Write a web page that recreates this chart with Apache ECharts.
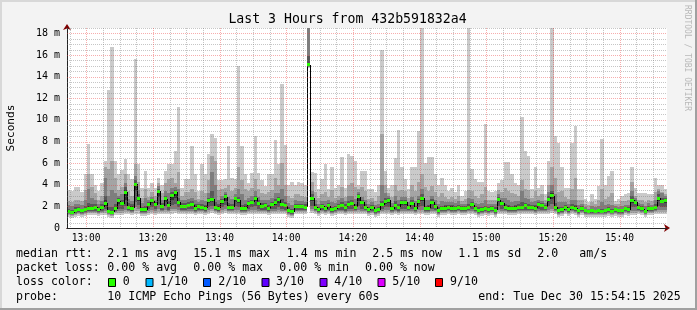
<!DOCTYPE html>
<html><head><meta charset="utf-8">
<script src="https://cdn.jsdelivr.net/npm/echarts@6/dist/echarts.min.js"></script>
<style>html,body{margin:0;padding:0;background:#f3f3f3}#c{width:697px;height:310px}</style>
</head><body><div id="c"></div>
<script>
// time axis: minutes after 12:00; first sample column starts at 12:54:15, one sample per minute
const startMin = 54.25;
const stepMin = 1;
const endMin = 234.25;
const xTickValues = [60,80,100,120,140,160,180,200,220];
const xTickLabels = ['13:00','13:20','13:40','14:00','14:20','14:40','15:00','15:20','15:40'];
const yTickValues = [0,2,4,6,8,10,12,14,16,18];
const yTickLabels = ['0','2 m','4 m','6 m','8 m','10 m','12 m','14 m','16 m','18 m'];
const yMax = 18.5;

// median rtt (ms)
const med = [1.54,1.40,1.63,1.69,1.63,1.69,1.85,1.76,1.94,1.69, 1.94,2.31,1.54,1.45,1.76,2.53,2.25,3.30,1.94,1.85, 4.07,2.77,1.69,1.69,2.16,2.53,2.16,3.39,2.00,2.71, 2.06,2.99,3.30,2.37,2.00,2.00,2.06,2.16,1.85,2.00, 1.91,1.85,2.56,2.68,1.91,1.85,2.46,2.87,1.94,1.91, 2.71,2.56,1.76,1.85,2.31,2.37,2.77,2.31,2.00,2.06, 1.76,2.16,2.37,2.62,2.16,2.06,1.63,1.51,2.00,2.00, 2.00,1.94,15.10,2.77,1.94,1.69,2.00,1.76,2.06,1.69, 1.76,2.00,2.06,1.94,2.16,2.25,1.94,2.87,2.37,1.94, 1.69,1.94,1.63,1.69,2.16,2.46,2.56,1.76,2.06,1.94, 2.37,2.37,1.94,2.31,1.76,2.46,2.77,1.76,1.85,2.40, 2.00,1.63,1.76,1.85,1.94,1.85,1.85,1.94,1.76,1.76, 1.94,2.16,1.76,1.63,1.69,1.76,1.69,1.76,1.63,2.62, 2.31,1.94,1.85,1.76,1.85,1.94,1.94,2.06,1.94,1.94, 1.85,2.16,2.06,1.94,2.68,2.99,1.94,1.63,1.69,1.94, 1.69,1.94,1.85,1.63,1.76,1.63,1.54,1.63,1.54,1.63, 1.54,1.63,1.69,1.54,1.69,1.63,1.63,1.76,1.69,2.56, 2.37,1.94,1.76,1.54,1.85,1.76,1.94,2.77,2.46,2.50];
// sorted ping levels (ms): p1 (min) ... p10 (max)
const p10 = [3.5,3.4,3.8,3.8,3.3,5.0,7.8,5.0,4.0,3.4, 4.2,6.2,12.8,16.7,6.2,5.0,5.4,6.4,5.0,4.5, 15.6,5.9,3.7,5.3,3.7,4.2,3.7,4.6,4.0,5.3, 5.9,5.9,7.1,11.2,3.7,4.5,4.5,7.6,5.0,3.4, 5.9,5.0,6.8,8.7,8.3,4.4,4.4,4.5,7.6,4.6, 4.5,15.0,7.6,5.0,4.2,5.1,8.5,5.1,4.4,3.9, 5.0,5.0,8.1,5.9,13.3,7.7,4.0,4.3,4.0,4.3, 4.2,4.0,25,5.2,5.1,3.6,4.5,5.9,3.6,5.6, 3.7,4.0,6.6,3.7,6.8,6.7,6.2,4.0,5.3,5.3, 3.6,3.6,3.3,4.0,16.5,5.3,3.7,4.0,6.5,9.1, 5.6,4.5,3.6,5.6,5.6,9.0,25,6.0,6.6,6.6, 5.0,4.0,4.6,4.0,3.4,3.7,3.3,4.0,3.0,3.4, 25,5.5,4.5,4.3,4.3,9.6,3.4,3.3,3.4,4.2, 4.4,6.1,6.1,5.0,4.2,4.0,10.3,7.1,6.7,3.6, 5.6,3.7,4.0,3.1,6.2,25,8.5,7.9,5.6,3.7, 3.7,7.9,9.4,3.6,3.6,2.7,2.4,3.1,2.7,3.9, 8.2,4.0,4.8,5.3,2.5,2.7,3.0,3.1,3.2,5.6, 3.7,3.2,3.2,3.2,3.1,3.1,4.6,4.0,4.0,3.6];
const p9 = [2.5,2.4,2.6,2.6,2.5,3.5,5.0,3.8,3.2,2.6, 3.0,5.6,5.5,6.2,4.6,3.5,3.8,5.0,3.4,3.0, 5.9,4.3,2.8,3.6,2.9,3.3,3.0,4.2,3.2,4.2, 4.5,4.6,4.2,5.2,3.0,3.3,3.3,3.6,3.3,2.7, 3.4,3.2,4.4,6.7,6.2,3.5,3.6,3.7,4.0,3.4, 3.7,5.6,4.4,3.6,3.4,3.7,4.5,3.6,3.2,3.1, 3.3,3.5,4.6,4.0,6.0,4.0,3.0,2.8,3.1,3.1, 3.0,2.9,22,4.3,3.3,2.8,3.1,3.3,2.9,3.5, 2.8,3.0,3.8,2.9,4.0,4.2,3.8,3.6,3.8,3.4, 2.7,2.8,2.5,3.0,8.7,4.0,3.2,2.9,4.0,3.4, 3.5,3.4,2.8,4.0,3.4,4.3,5.0,3.8,3.4,3.9, 3.3,2.9,3.2,2.9,2.7,2.9,2.7,3.0,2.5,2.7, 3.5,3.4,3.0,2.8,3.1,3.8,2.6,2.6,2.6,3.5, 3.3,3.7,3.4,3.2,3.1,3.0,4.4,3.6,3.5,2.8, 3.4,3.0,3.1,2.6,4.0,5.6,4.6,3.3,3.4,2.9, 2.7,3.6,4.6,2.6,2.6,2.2,2.1,2.4,2.2,2.6, 3.6,2.7,2.9,3.2,2.2,2.2,2.5,2.5,2.6,4.3, 3.0,2.6,2.6,2.4,2.6,2.5,3.3,3.6,3.3,3.1];
const p8 = [2.1,2.0,2.2,2.2,2.1,2.6,3.6,2.8,2.6,2.2, 2.5,4.6,3.0,3.5,3.2,3.0,3.1,4.2,2.7,2.5, 4.8,3.5,2.3,2.8,2.6,2.9,2.6,3.9,2.6,3.4, 3.2,3.7,3.8,3.6,2.6,2.6,2.7,2.8,2.6,2.4, 2.6,2.5,3.2,5.2,4.0,2.6,3.0,3.3,2.9,2.7, 3.1,3.6,3.1,2.6,2.8,3.0,3.4,2.9,2.6,2.6, 2.6,2.8,3.2,3.2,3.6,3.0,2.3,2.1,2.6,2.5, 2.5,2.4,20,3.4,2.6,2.2,2.5,2.5,2.6,2.4, 2.3,2.6,2.8,2.5,3.0,3.0,2.7,3.3,2.9,2.6, 2.2,2.4,2.1,2.2,4.0,3.2,3.0,2.3,3.0,2.6, 2.9,2.9,2.4,2.9,2.5,3.0,3.6,2.6,2.6,3.0, 2.6,2.2,2.5,2.4,2.4,2.4,2.3,2.5,2.2,2.2, 2.8,2.7,2.3,2.2,2.3,2.6,2.2,2.2,2.2,3.1, 2.8,2.8,2.6,2.4,2.5,2.5,3.4,2.8,2.7,2.4, 2.5,2.6,2.5,2.3,3.3,4.0,3.1,2.4,2.4,2.4, 2.2,2.6,2.6,2.1,2.2,1.9,1.8,2.0,1.9,2.0, 2.4,2.1,2.2,2.1,2.0,1.9,2.0,2.1,2.1,3.4, 2.8,2.3,2.2,2.0,2.3,2.1,2.6,3.4,3.2,3.0];
const p7 = [1.8,1.7,1.9,1.9,1.8,2.0,2.3,2.2,2.2,1.9, 2.2,3.0,1.9,1.9,2.2,2.8,2.6,3.8,2.3,2.2, 4.4,3.1,1.9,2.0,2.4,2.7,2.4,3.6,2.3,3.0, 2.5,3.3,3.5,2.8,2.3,2.3,2.4,2.5,2.2,2.2, 2.2,2.1,2.8,3.4,2.4,2.2,2.7,3.1,2.3,2.2, 2.9,2.9,2.1,2.2,2.5,2.6,3.0,2.6,2.3,2.3, 2.1,2.4,2.7,2.9,2.7,2.4,1.9,1.8,2.2,2.2, 2.2,2.2,15.9,3.1,2.2,1.9,2.2,2.0,2.3,1.9, 2.0,2.2,2.4,2.2,2.5,2.6,2.2,3.1,2.6,2.2, 1.9,2.1,1.8,1.9,2.5,2.8,2.8,2.0,2.5,2.2, 2.6,2.6,2.1,2.6,2.0,2.7,3.1,2.0,2.1,2.7, 2.2,1.9,2.0,2.1,2.1,2.1,2.0,2.1,2.0,2.0, 2.2,2.4,2.0,1.9,1.9,2.0,1.9,2.0,1.9,2.9, 2.5,2.2,2.1,2.0,2.1,2.2,2.4,2.3,2.2,2.1, 2.1,2.4,2.3,2.1,3.0,3.4,2.3,1.9,1.9,2.1, 1.9,2.2,2.1,1.8,2.0,1.8,1.7,1.8,1.7,1.8, 1.8,1.8,1.9,1.8,1.8,1.8,1.8,1.9,1.9,3.0, 2.6,2.1,2.0,1.7,2.0,1.9,2.2,3.1,2.8,2.8];
const p6 = [1.6,1.5,1.7,1.8,1.7,1.8,2.0,1.9,2.0,1.8, 2.0,2.6,1.6,1.6,1.9,2.6,2.4,3.5,2.0,2.0, 4.2,2.9,1.8,1.8,2.3,2.6,2.3,3.5,2.1,2.8, 2.2,3.1,3.4,2.5,2.1,2.1,2.2,2.3,2.0,2.1, 2.0,2.0,2.7,2.8,2.0,2.0,2.6,3.0,2.1,2.0, 2.8,2.7,1.9,2.0,2.4,2.5,2.9,2.4,2.1,2.2, 1.9,2.3,2.5,2.8,2.3,2.2,1.7,1.6,2.1,2.1, 2.1,2.0,15.3,2.9,2.0,1.8,2.1,1.9,2.2,1.8, 1.9,2.1,2.2,2.0,2.3,2.4,2.0,3.0,2.5,2.0, 1.8,2.0,1.7,1.8,2.3,2.6,2.7,1.9,2.2,2.0, 2.5,2.5,2.0,2.4,1.9,2.6,2.9,1.9,2.0,2.5, 2.1,1.7,1.9,2.0,2.0,2.0,1.9,2.0,1.9,1.9, 2.0,2.3,1.9,1.7,1.8,1.9,1.8,1.9,1.7,2.8, 2.4,2.0,2.0,1.9,2.0,2.0,2.0,2.2,2.0,2.0, 2.0,2.3,2.2,2.0,2.8,3.2,2.0,1.7,1.8,2.0, 1.8,2.0,2.0,1.7,1.9,1.7,1.6,1.7,1.6,1.7, 1.6,1.7,1.8,1.6,1.8,1.7,1.7,1.8,1.8,2.7, 2.5,2.0,1.9,1.6,1.9,1.8,2.0,2.9,2.6,2.6];
const p5 = [1.5,1.3,1.5,1.6,1.5,1.6,1.7,1.7,1.8,1.6, 1.8,2.0,1.5,1.4,1.7,2.2,2.1,2.6,1.8,1.7, 3.4,2.5,1.6,1.6,2.0,2.3,2.0,2.9,1.9,2.4, 1.9,2.6,2.8,2.2,1.9,1.9,1.9,2.0,1.7,1.9, 1.8,1.7,2.3,2.4,1.8,1.7,2.2,2.5,1.8,1.8, 2.4,2.3,1.7,1.7,2.1,2.2,2.5,2.1,1.9,1.9, 1.7,2.0,2.1,2.3,2.0,1.9,1.5,1.4,1.9,1.9, 1.9,1.8,15.0,2.5,1.8,1.6,1.9,1.7,1.9,1.6, 1.7,1.9,1.9,1.8,2.0,2.1,1.8,2.5,2.2,1.8, 1.6,1.8,1.5,1.6,2.0,2.2,2.3,1.7,1.9,1.8, 2.1,2.1,1.8,2.1,1.7,2.2,2.5,1.7,1.7,2.2, 1.9,1.5,1.7,1.8,1.8,1.8,1.8,1.8,1.7,1.7, 1.8,2.0,1.7,1.5,1.6,1.7,1.6,1.7,1.5,2.4, 2.1,1.8,1.8,1.7,1.8,1.8,1.8,1.9,1.8,1.8, 1.8,2.0,1.9,1.8,2.4,2.7,1.8,1.5,1.6,1.8, 1.6,1.8,1.7,1.5,1.7,1.5,1.5,1.5,1.5,1.5, 1.5,1.5,1.6,1.5,1.6,1.5,1.5,1.7,1.6,2.3, 2.2,1.8,1.7,1.5,1.7,1.7,1.8,2.5,2.3,2.3];
const p4 = [1.4,1.3,1.4,1.5,1.4,1.5,1.6,1.6,1.6,1.5, 1.6,1.8,1.4,1.3,1.6,1.8,1.8,2.0,1.7,1.6, 2.4,2.1,1.5,1.5,1.8,1.9,1.8,2.2,1.7,2.0, 1.7,2.1,2.2,1.9,1.7,1.7,1.8,1.8,1.6,1.7, 1.7,1.6,1.9,2.0,1.7,1.6,1.9,2.1,1.7,1.7, 2.0,1.9,1.6,1.6,1.8,1.9,2.0,1.8,1.7,1.7, 1.6,1.8,1.8,1.9,1.8,1.7,1.4,1.3,1.7,1.7, 1.7,1.7,15.0,2.0,1.7,1.5,1.7,1.6,1.7,1.5, 1.6,1.7,1.7,1.6,1.8,1.8,1.7,2.0,1.8,1.7, 1.5,1.6,1.4,1.5,1.8,1.9,1.9,1.6,1.7,1.6, 1.8,1.8,1.7,1.8,1.6,1.9,2.0,1.6,1.6,1.8, 1.7,1.4,1.6,1.6,1.7,1.6,1.6,1.7,1.6,1.6, 1.7,1.8,1.6,1.4,1.5,1.6,1.5,1.6,1.4,2.0, 1.8,1.7,1.6,1.6,1.6,1.7,1.7,1.7,1.7,1.7, 1.6,1.8,1.7,1.7,2.0,2.2,1.7,1.4,1.5,1.7, 1.5,1.7,1.6,1.4,1.6,1.4,1.4,1.4,1.4,1.4, 1.4,1.4,1.5,1.4,1.5,1.4,1.4,1.6,1.5,1.9, 1.9,1.7,1.6,1.4,1.6,1.6,1.7,2.0,1.9,1.9];
const p3 = [1.3,1.2,1.3,1.4,1.3,1.4,1.5,1.5,1.5,1.4, 1.5,1.6,1.3,1.2,1.5,1.6,1.6,1.7,1.6,1.5, 1.9,1.8,1.4,1.4,1.6,1.7,1.6,1.8,1.6,1.7, 1.6,1.8,1.8,1.7,1.6,1.6,1.6,1.6,1.5,1.6, 1.6,1.5,1.7,1.8,1.6,1.5,1.7,1.8,1.6,1.6, 1.7,1.7,1.5,1.5,1.6,1.7,1.7,1.6,1.6,1.6, 1.5,1.6,1.6,1.7,1.6,1.6,1.3,1.2,1.6,1.6, 1.6,1.6,14.9,1.8,1.6,1.4,1.6,1.5,1.6,1.4, 1.5,1.6,1.6,1.5,1.6,1.6,1.6,1.7,1.6,1.6, 1.4,1.5,1.3,1.4,1.6,1.7,1.7,1.5,1.6,1.5, 1.6,1.6,1.6,1.6,1.5,1.7,1.7,1.5,1.5,1.6, 1.6,1.3,1.5,1.5,1.6,1.5,1.5,1.6,1.5,1.5, 1.6,1.6,1.5,1.3,1.4,1.5,1.4,1.5,1.3,1.7, 1.6,1.6,1.5,1.5,1.5,1.6,1.6,1.6,1.6,1.6, 1.5,1.6,1.6,1.6,1.7,1.8,1.6,1.3,1.4,1.6, 1.4,1.6,1.5,1.3,1.5,1.3,1.3,1.3,1.3,1.3, 1.3,1.3,1.4,1.3,1.4,1.3,1.3,1.5,1.4,1.6, 1.6,1.6,1.5,1.3,1.5,1.5,1.6,1.7,1.7,1.7];
const p2 = [1.2,1.1,1.2,1.3,1.2,1.3,1.4,1.4,1.4,1.3, 1.4,1.4,1.2,1.1,1.4,1.4,1.4,1.5,1.5,1.4, 1.6,1.6,1.3,1.3,1.4,1.5,1.4,1.5,1.5,1.5, 1.5,1.6,1.6,1.5,1.5,1.5,1.5,1.5,1.4,1.5, 1.5,1.4,1.5,1.6,1.5,1.4,1.5,1.6,1.5,1.5, 1.5,1.5,1.4,1.4,1.5,1.5,1.5,1.5,1.5,1.5, 1.4,1.5,1.5,1.5,1.5,1.5,1.2,1.1,1.5,1.5, 1.5,1.5,14.85,1.6,1.5,1.3,1.5,1.4,1.5,1.3, 1.4,1.5,1.5,1.4,1.5,1.5,1.5,1.5,1.5,1.5, 1.3,1.4,1.2,1.3,1.5,1.5,1.5,1.4,1.5,1.4, 1.5,1.5,1.5,1.5,1.4,1.5,1.5,1.4,1.4,1.5, 1.5,1.2,1.4,1.4,1.5,1.4,1.4,1.5,1.4,1.4, 1.5,1.5,1.4,1.2,1.3,1.4,1.3,1.4,1.2,1.5, 1.5,1.5,1.4,1.4,1.4,1.5,1.5,1.5,1.5,1.5, 1.4,1.5,1.5,1.5,1.5,1.6,1.5,1.2,1.3,1.5, 1.3,1.5,1.4,1.2,1.4,1.2,1.2,1.2,1.2,1.2, 1.2,1.2,1.3,1.2,1.3,1.2,1.2,1.4,1.3,1.4, 1.4,1.5,1.4,1.2,1.4,1.4,1.5,1.5,1.5,1.5];
const p1 = [1.0,0.9,1.0,1.1,1.0,1.1,1.2,1.2,1.2,1.1, 1.2,1.2,1.0,0.9,1.2,1.2,1.2,1.3,1.3,1.2, 1.3,1.3,1.1,1.1,1.2,1.3,1.2,1.3,1.3,1.3, 1.3,1.3,1.4,1.3,1.3,1.3,1.3,1.3,1.2,1.3, 1.3,1.2,1.3,1.4,1.3,1.2,1.3,1.4,1.3,1.3, 1.3,1.3,1.2,1.2,1.3,1.3,1.3,1.3,1.3,1.3, 1.2,1.3,1.3,1.3,1.3,1.3,1.0,0.9,1.3,1.3, 1.3,1.3,14.8,1.4,1.3,1.1,1.3,1.2,1.3,1.1, 1.2,1.3,1.3,1.2,1.3,1.3,1.3,1.3,1.3,1.3, 1.1,1.2,1.0,1.1,1.3,1.3,1.3,1.2,1.3,1.2, 1.3,1.3,1.3,1.3,1.2,1.3,1.3,1.2,1.2,1.3, 1.3,1.0,1.2,1.2,1.3,1.2,1.2,1.3,1.2,1.2, 1.3,1.3,1.2,1.0,1.1,1.2,1.1,1.2,1.0,1.3, 1.3,1.3,1.2,1.2,1.2,1.3,1.3,1.3,1.3,1.3, 1.2,1.3,1.3,1.3,1.3,1.4,1.3,1.0,1.1,1.3, 1.1,1.3,1.2,1.0,1.2,1.0,1.0,1.0,1.0,1.0, 1.0,1.0,1.1,1.0,1.1,1.0,1.0,1.2,1.1,1.2, 1.2,1.3,1.2,1.0,1.2,1.2,1.3,1.3,1.3,1.3];

const smokeColors = ['#cacaca','#a4a4a4','#7e7e7e','#585858','#323232'];
const lossColors = ['#26ff00','#00b8ff','#0059ff','#5e00ff','#7e00ff','#dd00ff','#ff0000'];
const lossLabels = ['0','1/10','2/10','3/10','4/10','5/10','9/10'];

const MONO = 'DejaVu Sans Mono';
const chart = echarts.init(document.getElementById('c'), null, {renderer:'canvas'});

const colData = med.map((v,i)=>[startMin + i*stepMin, v]);

function colX(api, i){
  const a = Math.round(api.coord([startMin + i*stepMin, 0])[0]);
  const b = Math.round(api.coord([startMin + (i+1)*stepMin, 0])[0]);
  return [a,b];
}
function clipR(r, cs){
  return echarts.graphic.clipRectByRect(r, {x:cs.x, y:cs.y, width:cs.width, height:cs.height});
}

function renderSmoke(params, api){
  const i = params.dataIndex;
  const cs = params.coordSys;
  const [xa, xb] = colX(api, i);
  const t = startMin + i*stepMin;
  const v = [p1[i],p2[i],p3[i],p4[i],p5[i],p6[i],p7[i],p8[i],p9[i],p10[i]].slice().sort((a,b)=>a-b);
  const ch = [];
  for (let k=0;k<5;k++){
    const yl = Math.round(api.coord([t, v[k]])[1]);
    const yh = Math.round(api.coord([t, v[9-k]])[1]);
    const r = clipR({x:xa, y:yh, width:xb-xa, height:Math.max(1, yl-yh)}, cs);
    if (r) ch.push({type:'rect', shape:r, style:{fill:smokeColors[k]}});
  }
  return {type:'group', children: ch};
}

function renderMedian(params, api){
  const i = params.dataIndex;
  const cs = params.coordSys;
  const [xa, xb] = colX(api, i);
  const t = startMin + i*stepMin;
  const ym = api.coord([t, med[i]])[1];
  const ch = [];
  if (i > 0){
    const yp = api.coord([t, med[i-1]])[1];
    ch.push({type:'line', shape:{x1:xa+0.5, y1:Math.round(yp), x2:xa+0.5, y2:Math.round(ym)}, style:{stroke:'#000', lineWidth:1}});
  }
  const r = clipR({x:xa, y:Math.round(ym-1.5), width:xb-xa, height:3}, cs);
  if (r) ch.push({type:'rect', shape:r, style:{fill:lossColors[0]}});
  return {type:'group', children: ch};
}

function renderGrid(params, api){
  const cs = params.coordSys;
  const ch = [];
  const x0 = cs.x, x1 = cs.x + cs.width, y0 = cs.y, y1 = cs.y + cs.height;
  for (let k=1; k*0.5 <= yMax + 1e-9; k++){
    const val = k*0.5;
    const y = Math.round(api.coord([startMin, val])[1]) + 0.5;
    const major = (val % 2 === 0);
    ch.push({type:'line', shape:{x1:x0, y1:y, x2:x1, y2:y},
      style:{stroke: major ? 'rgba(235,60,60,0.42)' : 'rgba(120,120,120,0.42)', lineWidth:1, lineDash:[1,1]}});
  }
  for (let m=55; m<endMin; m+=5){
    const x = Math.round(api.coord([m, 0])[0]) + 0.5;
    const major = (m % 20 === 0);
    ch.push({type:'line', shape:{x1:x, y1:y0, x2:x, y2:y1},
      style:{stroke: major ? 'rgba(235,60,60,0.42)' : 'rgba(120,120,120,0.42)', lineWidth:1, lineDash:[1,1]}});
  }
  return {type:'group', children: ch};
}

function fmtX(v){
  const idx = xTickValues.indexOf(Math.round(v));
  return idx >= 0 ? xTickLabels[idx] : '';
}
function fmtY(v){
  const idx = yTickValues.indexOf(v);
  return idx >= 0 ? yTickLabels[idx] : '';
}

const txt = (x, y, s, extra) => Object.assign({type:'text', x:x, y:y, silent:true,
  style:{text:s, fill:'#000', font:'11.6px "'+MONO+'"', textAlign:'left', textVerticalAlign:'middle', verticalAlign:'middle'}}, extra||{});

const boxX = [108.5,146,203.5,262,320,378,435.5];
const boxTextX = [122.7,160,218.3,276,334.3,392.3,450];
const graphics = [
  {type:'rect', shape:{x:0,y:0,width:697,height:2}, style:{fill:'#d8d8d8'}, silent:true},
  {type:'rect', shape:{x:0,y:0,width:2,height:310}, style:{fill:'#d8d8d8'}, silent:true},
  {type:'rect', shape:{x:695,y:0,width:2,height:310}, style:{fill:'#a0a0a0'}, silent:true},
  {type:'rect', shape:{x:0,y:308,width:697,height:2}, style:{fill:'#a0a0a0'}, silent:true},
  {type:'text', x:347.5, y:19.5, silent:true, style:{text:'Last 3 Hours from 432b591832a4', fill:'#000', font:'13.2px "'+MONO+'"', textAlign:'center', verticalAlign:'middle', textVerticalAlign:'middle'}},
  {type:'text', x:687.5, y:5, rotation:-Math.PI/2, silent:true, style:{text:'RRDTOOL / TOBI OETIKER', fill:'#b8b8b8', font:'8px "'+MONO+'"', textAlign:'left', verticalAlign:'middle', textVerticalAlign:'middle'}},
  txt(16, 254.3, 'median rtt:'),
  txt(107.3, 254.3, '2.1 ms avg'),
  txt(193.3, 254.3, '15.1 ms max'),
  txt(286.7, 254.3, '1.4 ms min'),
  txt(372.3, 254.3, '2.5 ms now'),
  txt(458.3, 254.3, '1.1 ms sd'),
  txt(537.3, 254.3, '2.0'),
  txt(579.3, 254.3, 'am/s'),
  txt(16, 268.3, 'packet loss:'),
  txt(107.3, 268.3, '0.00 % avg'),
  txt(193.3, 268.3, '0.00 % max'),
  txt(279.3, 268.3, '0.00 % min'),
  txt(365, 268.3, '0.00 % now'),
  txt(16, 282.3, 'loss color:'),
  txt(16, 296.7, 'probe:'),
  txt(107.3, 296.7, '10 ICMP Echo Pings (56 Bytes) every 60s'),
  txt(478.3, 296.7, 'end: Tue Dec 30 15:54:15 2025')
];
lossColors.forEach((c, k) => {
  graphics.push({type:'rect', silent:true, shape:{x:boxX[k], y:278.5, width:7, height:8}, style:{fill:c, stroke:'#000', lineWidth:1}});
  graphics.push(txt(boxTextX[k], 282.3, lossLabels[k]));
});

const option = {
  backgroundColor:'#f3f3f3',
  animation:false,
  grid:{left:67, right:30, top:28, bottom:82, show:true, backgroundColor:'#ffffff', borderWidth:0, containLabel:false, outerBoundsMode:'none'},
  xAxis:[{
    type:'value', min:startMin, max:endMin, minInterval:20, maxInterval:20, z:3,
    axisLine:{show:true, onZero:false, lineStyle:{color:'#222', width:1}},
    axisTick:{show:false},
    splitLine:{show:false},
    axisLabel:{show:true, customValues:xTickValues, formatter:fmtX, hideOverlap:false,
      color:'#000', fontFamily:MONO, fontSize:9.6, margin:5}
  },{
    type:'value', min:startMin, max:endMin, position:'bottom', z:1,
    axisLine:{show:true, onZero:false, symbol:['none','arrow'], symbolSize:[6,6], symbolOffset:[0,3], lineStyle:{color:'#7f0000', width:1}},
    axisTick:{show:false}, axisLabel:{show:false}, splitLine:{show:false}
  }],
  yAxis:[{
    type:'value', min:0, max:yMax, interval:2, z:3,
    name:'Seconds', nameLocation:'middle', nameGap:50, nameRotate:90,
    nameTextStyle:{fontFamily:MONO, fontSize:11.2, color:'#000'},
    axisLine:{show:true, onZero:false, lineStyle:{color:'#222', width:1}},
    axisTick:{show:false},
    splitLine:{show:false},
    axisLabel:{show:true, formatter:fmtY, showMaxLabel:false, color:'#000', fontFamily:MONO, fontSize:10, margin:7}
  },{
    type:'value', min:0, max:yMax, position:'left', offset:0, z:1,
    axisLine:{show:true, onZero:false, symbol:['none','arrow'], symbolSize:[6,6], symbolOffset:[0,4], lineStyle:{color:'#7f0000', width:1}},
    axisTick:{show:false}, axisLabel:{show:false}, splitLine:{show:false}
  }],
  series:[
    {type:'custom', name:'smoke', renderItem:renderSmoke, data:colData, z:2, silent:true, encode:{x:0, y:1}},
    {type:'custom', name:'median', renderItem:renderMedian, data:colData, z:3, silent:true, encode:{x:0, y:1}},
    {type:'custom', name:'grid', renderItem:renderGrid, data:[[startMin, 0]], z:4, silent:true, encode:{x:0, y:1}}
  ],
  graphic: graphics
};
chart.setOption(option);
</script>
</body></html>
